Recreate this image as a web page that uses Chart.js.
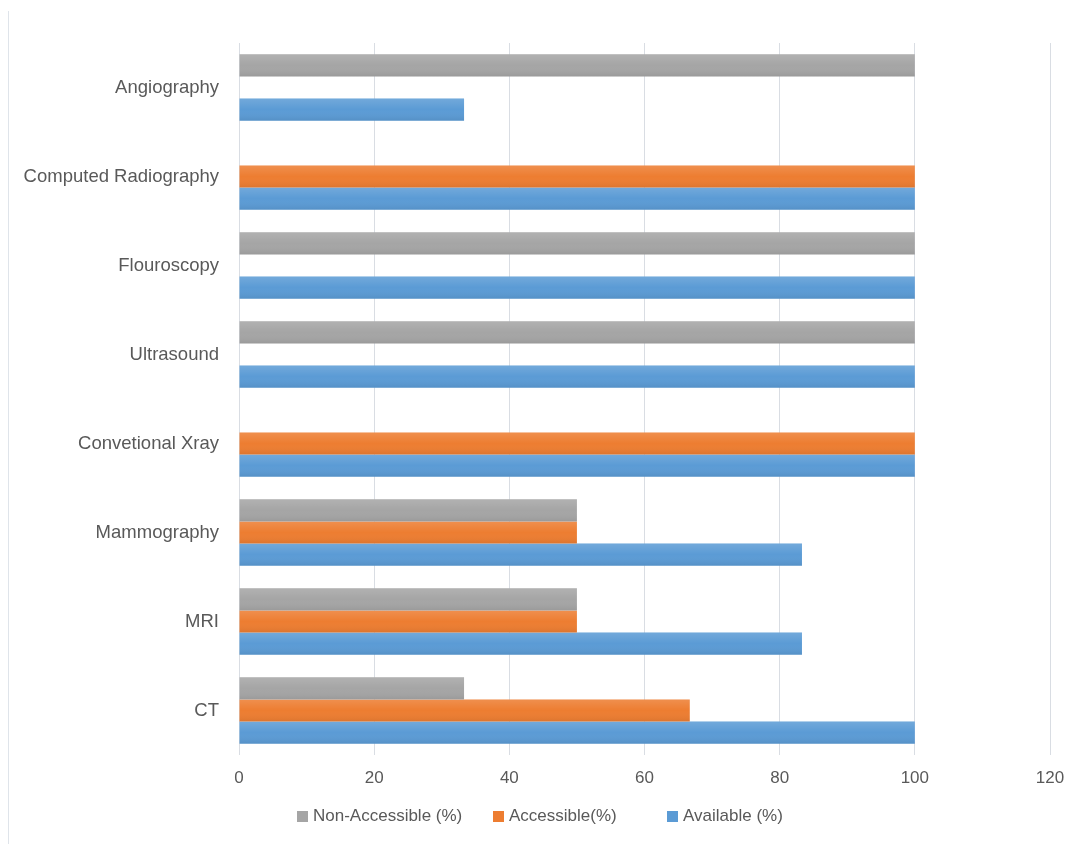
<!DOCTYPE html>
<html>
<head>
<meta charset="utf-8">
<script src="https://cdn.jsdelivr.net/npm/chart.js@4.4.1/dist/chart.umd.min.js"></script>
<style>
  html, body { margin: 0; padding: 0; background: #ffffff; }
  #wrap { position: relative; width: 1067px; height: 844px; overflow: hidden; }
  #edge { position: absolute; left: 8px; top: 11px; width: 0; height: 833px; border-left: 1px solid #dfe4ea; }
  canvas { position: absolute; left: 0; top: 0; }
  #legend { position: absolute; left: 297px; top: 806px; height: 20px; display: flex; align-items: center;
            font-family: 'Liberation Sans', sans-serif; font-size: 17px; color: #595959; white-space: nowrap; }
  #legend .item { display: flex; align-items: center; }
  #legend .item:nth-child(1) { width: 196px; }
  #legend .item:nth-child(2) { width: 174px; }
  #legend .box { width: 11px; height: 11px; margin-right: 5px; }
</style>
</head>
<body>
<div id="wrap">
  <div id="edge"></div>
  <canvas id="c" width="1067" height="844"></canvas>
  <div id="legend"></div>
</div>
<script>
const categories = ["Angiography", "Computed Radiography", "Flouroscopy", "Ultrasound", "Convetional Xray", "Mammography", "MRI", "CT"];
const seriesNames = ["Non-Accessible (%)", "Accessible(%)", "Available (%)"];
const nonAccessible = [100, 0, 100, 100, 0, 50, 50, 33.3];
const accessible    = [0, 100, 0, 0, 100, 50, 50, 66.7];
const available     = [33.3, 100, 100, 100, 100, 83.3, 83.3, 100];
const xTicks = [0, 20, 40, 60, 80, 100, 120];
const colors = ['#a5a5a5', '#ed7d31', '#5b9bd5'];

const shadePlugin = {
  id: 'shade',
  afterDatasetsDraw(chart) {
    const ctx = chart.ctx;
    chart.data.datasets.forEach((ds, di) => {
      const meta = chart.getDatasetMeta(di);
      meta.data.forEach(bar => {
        const p = bar.getProps(['x', 'y', 'base', 'height'], true);
        const left = Math.min(p.x, p.base), w = Math.abs(p.x - p.base);
        if (w < 0.5) return;
        const top = p.y - p.height / 2;
        const g = ctx.createLinearGradient(0, top, 0, top + p.height);
        g.addColorStop(0, 'rgba(255,255,255,0.14)');
        g.addColorStop(0.5, 'rgba(255,255,255,0)');
        g.addColorStop(1, 'rgba(0,0,0,0.07)');
        ctx.save();
        ctx.fillStyle = g;
        ctx.fillRect(left, top, w, p.height);
        ctx.restore();
      });
    });
  }
};

const chart = new Chart(document.getElementById('c'), {
  type: 'bar',
  data: {
    labels: categories,
    datasets: [
      { label: seriesNames[0], data: nonAccessible, backgroundColor: colors[0] },
      { label: seriesNames[1], data: accessible, backgroundColor: colors[1] },
      { label: seriesNames[2], data: available, backgroundColor: colors[2] }
    ]
  },
  options: {
    indexAxis: 'y',
    responsive: false,
    animation: false,
    datasets: { bar: { barPercentage: 1, categoryPercentage: 0.745 } },
    layout: { padding: { left: 0, right: 17, top: 43, bottom: 0 } },
    scales: {
      x: {
        min: 0, max: 120,
        afterBuildTicks(scale) { scale.ticks = xTicks.map(v => ({ value: v })); },
        afterFit(scale) { scale.height = 89; scale.paddingLeft = 0; scale.paddingRight = 0; },
        grid: { color: '#d9dde3', drawTicks: false },
        border: { display: false },
        ticks: { color: '#595959', font: { family: 'Liberation Sans', size: 17 }, padding: 13 }
      },
      y: {
        afterFit(scale) { scale.width = 239; scale.paddingTop = 0; scale.paddingBottom = 0; },
        grid: { display: false, drawTicks: false },
        border: { display: false },
        ticks: { color: '#595959', font: { family: 'Liberation Sans', size: 18.5 }, padding: 20 }
      }
    },
    plugins: {
      legend: { display: false },
      tooltip: { enabled: false }
    }
  },
  plugins: [shadePlugin]
});

const legendEl = document.getElementById('legend');
chart.data.datasets.forEach(ds => {
  const item = document.createElement('div');
  item.className = 'item';
  const box = document.createElement('span');
  box.className = 'box';
  box.style.background = ds.backgroundColor;
  const txt = document.createElement('span');
  txt.textContent = ds.label;
  item.appendChild(box);
  item.appendChild(txt);
  legendEl.appendChild(item);
});
</script>
</body>
</html>
